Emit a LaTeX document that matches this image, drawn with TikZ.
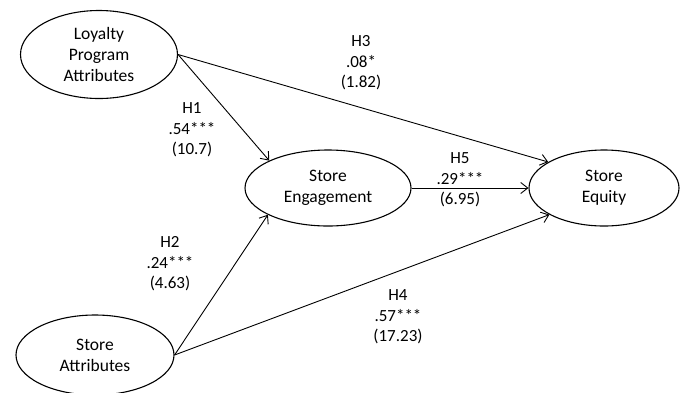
\documentclass[tikz,border=0pt]{standalone}
\usepackage{fontspec}
\setmainfont{Carlito}
\usetikzlibrary{shapes.geometric,arrows.meta}
\begin{document}
\begin{tikzpicture}[x=1pt,y=-1pt,
  latent/.style={draw,ellipse,line width=1.1pt,inner sep=0pt,align=center,
    font=\fontsize{17.5}{21}\selectfont},
  lbl/.style={align=center,inner sep=0pt,font=\fontsize{17}{20.5}\selectfont},
  arr/.style={-{Straight Barb[length=7pt,width=11pt,line width=0.9pt]},line width=0.9pt}]
\useasboundingbox (0,0) rectangle (680,392);
\node[latent,minimum width=157pt,minimum height=88pt] (lp) at (99,54.5) {Loyalty\\Program\\Attributes};
\node[latent,minimum width=166pt,minimum height=76pt] (eng) at (328,188) {Store\\Engagement};
\node[latent,minimum width=150pt,minimum height=76pt] (eq) at (604,188) {Store\\Equity};
\node[latent,minimum width=158pt,minimum height=80pt] (sa) at (95,355) {Store\\Attributes};
\draw[arr] (lp.east) -- (eq.155);
\draw[arr] (lp.east) -- (eng.155);
\draw[arr] (eng.east) -- (eq.west);
\draw[arr] (sa.east) -- (eng.204);
\draw[arr] (sa.east) -- (eq.206);
\node[lbl] (l3) at (361,63) {H3\\.08*\\(1.82)};
\node[lbl] (l1) at (192,130) {H1\\.54***\\(10.7)};
\node[lbl] (l5) at (460,180) {H5\\.29***\\(6.95)};
\node[lbl] (l2) at (170,264) {H2\\.24***\\(4.63)};
\node[lbl] (l4) at (398,317) {H4\\.57***\\(17.23)};
\end{tikzpicture}
\end{document}
